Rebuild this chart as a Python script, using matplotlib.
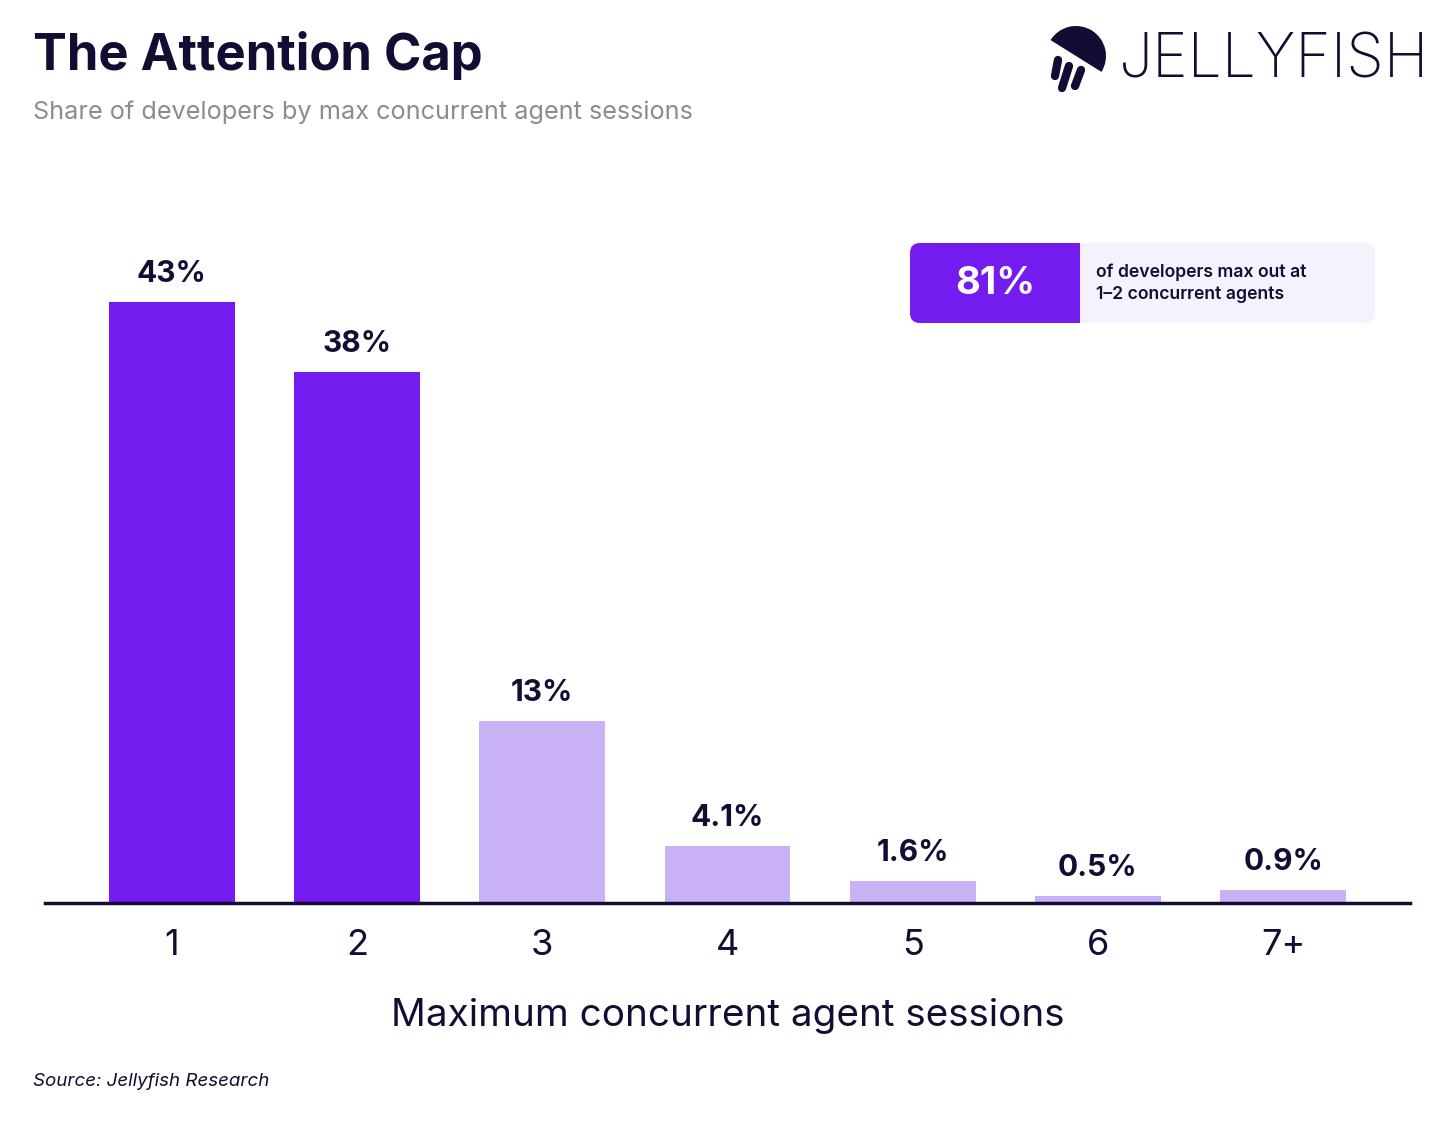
import numpy as np
import matplotlib.pyplot as plt
from matplotlib.patches import FancyBboxPatch, Rectangle, Wedge

plt.rcParams["font.family"] = ["Inter", "DejaVu Sans"]

categories = ["1", "2", "3", "4", "5", "6", "7+"]
shares = [43, 38, 13, 4.1, 1.6, 0.5, 0.9]
value_labels = ["43%", "38%", "13%", "4.1%", "1.6%", "0.5%", "0.9%"]
highlighted = [True, True, False, False, False, False, False]

DARK = "#120d33"
PURPLE = "#741cf0"
LILAC = "#c8b1f5"
W, H = 1456, 1127

fig = plt.figure(figsize=(W / 100, H / 100), dpi=100)
fig.patch.set_facecolor("white")

# --- main bar axes ---
ax = fig.add_axes([45 / W, 1 - 903 / H, (1410 - 45) / W, (903 - 200) / H])
x = np.arange(len(categories))
colors = [PURPLE if h else LILAC for h in highlighted]
ax.bar(x, shares, width=0.68, color=colors, zorder=2)
for xi, v, lab in zip(x, shares, value_labels):
    ax.text(xi, v + 1.0, lab, ha="center", va="bottom", fontsize=21.5,
            fontweight="bold", color=DARK)
ax.set_xlim(-0.685, 6.685)
ax.set_ylim(0, (903 - 200) / 13.98)
ax.set_xticks(x)
ax.set_xticklabels(categories, fontsize=26, color=DARK)
ax.tick_params(axis="x", length=0, pad=19)
ax.set_yticks([])
for s in ["top", "right", "left"]:
    ax.spines[s].set_visible(False)
ax.spines["bottom"].set_linewidth(2.5)
ax.spines["bottom"].set_color(DARK)
ax.set_xlabel("Maximum concurrent agent sessions", fontsize=27.8, color=DARK,
              labelpad=26)

# --- overlay in pixel coordinates for title, callout, logo ---
ov = fig.add_axes([0, 0, 1, 1], zorder=3)
ov.set_xlim(0, W)
ov.set_ylim(H, 0)
ov.axis("off")

ov.text(33, 56, "The Attention Cap", fontsize=36.5, fontweight="bold",
        color=DARK, va="center", ha="left")
ov.text(33, 112, "Share of developers by max concurrent agent sessions",
        fontsize=18.2, color="#8c8c8c", va="center", ha="left")
ov.text(33, 1082, "Source: Jellyfish Research", fontsize=13.5,
        style="italic", color=DARK, va="center", ha="left")

# callout box
ov.add_patch(FancyBboxPatch((910, 243), 465, 80,
                            boxstyle="round,pad=0,rounding_size=10",
                            fc="#f6f2fd", ec="none"))
ov.add_patch(FancyBboxPatch((910, 243), 170, 80,
                            boxstyle="round,pad=0,rounding_size=10",
                            fc=PURPLE, ec="none"))
ov.add_patch(Rectangle((1060, 243), 20, 80, fc=PURPLE, ec="none"))
ov.text(995, 284, "81%", fontsize=27.5, fontweight="bold", color="white",
        ha="center", va="center")
ov.text(1096, 283, "of developers max out at\n1–2 concurrent agents",
        fontsize=12.7, fontweight="semibold", color=DARK, ha="left",
        va="center", linespacing=1.35)

# logo
ov.add_patch(Wedge((1076, 56), 30, -148, 32, fc=DARK, ec="none"))
for (x0, y0, x1, y1) in [(1058, 60, 1055, 76), (1069, 66, 1062, 88),
                         (1081, 70, 1075, 86)]:
    ov.plot([x0, x1], [y0, y1], color=DARK, lw=6, solid_capstyle="round")
ov.text(1119, 62, "JELLYFISH", fontsize=43.5, fontweight="light",
        color=DARK, ha="left", va="center")

fig.savefig("out.png", dpi=100, facecolor="white")
